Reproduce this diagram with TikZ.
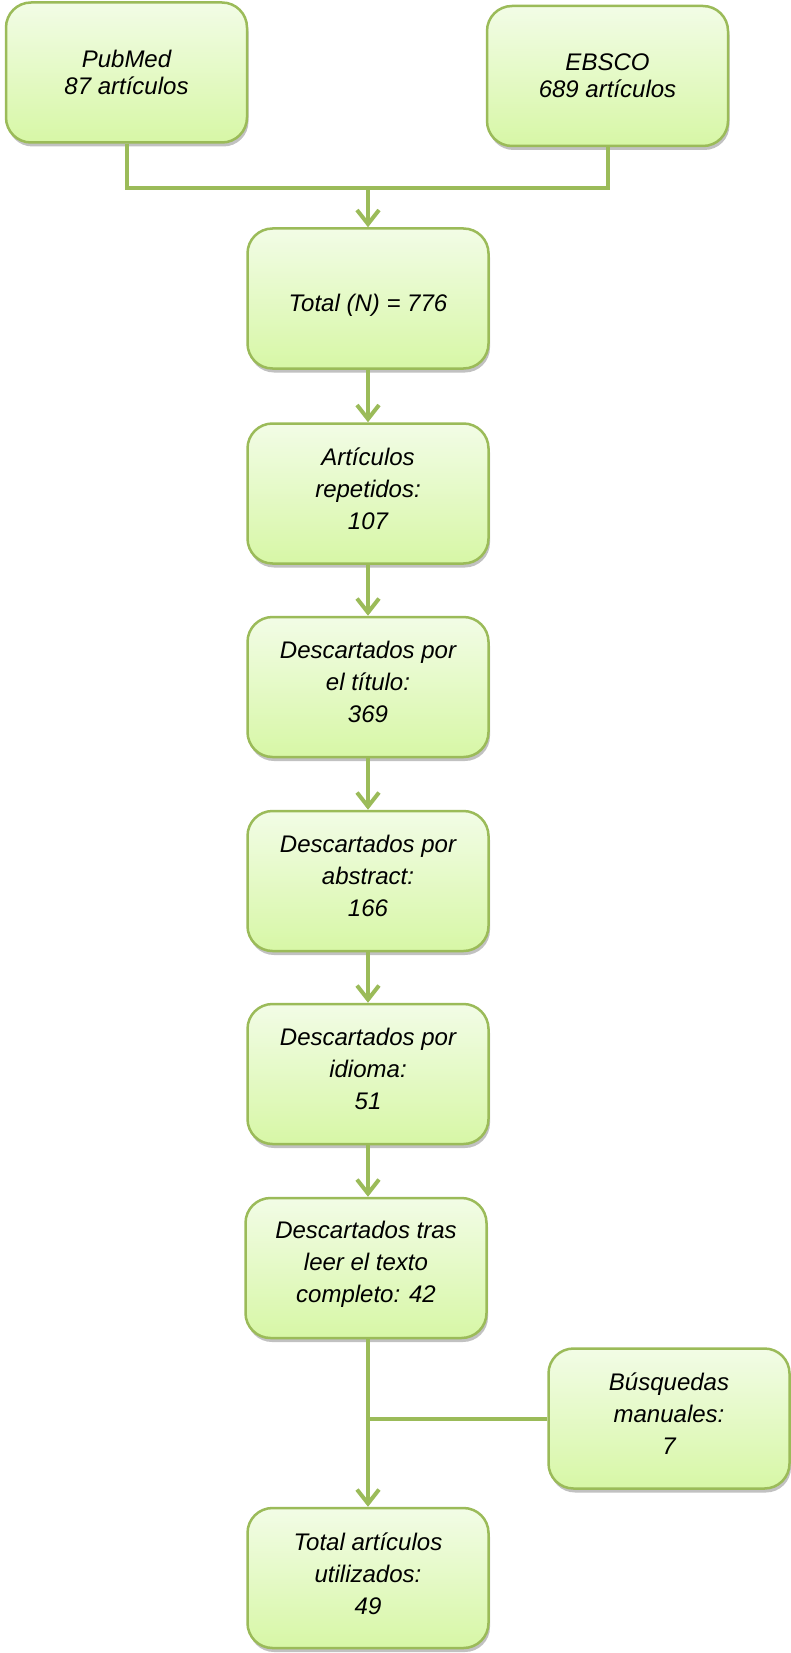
\documentclass[tikz,border=0pt]{standalone}
\usepackage{fontspec}
\setmainfont{Liberation Sans}
\usetikzlibrary{arrows.meta,shadows}
\definecolor{oliveline}{HTML}{9BBB59}
\definecolor{filltop}{HTML}{F2FCE6}
\definecolor{fillbot}{HTML}{D7F7A6}
\tikzset{
  flowbox/.style={draw=oliveline, line width=2.5pt, rounded corners=25pt,
    top color=filltop, bottom color=fillbot,
    minimum width=241pt, minimum height=140pt, inner sep=0pt,
    drop shadow={shadow xshift=1.5pt, shadow yshift=-4pt, opacity=0.35, fill=black!70}},
  boxtext/.style={align=center, font=\itshape\fontsize{24}{32}\selectfont, text=black},
  toptext/.style={align=center, font=\itshape\fontsize{24}{27}\selectfont, text=black},
  link/.style={draw=oliveline, line width=4pt},
  flowarrow/.style={link, -{Straight Barb[length=14pt,width=22pt,line width=4pt]}}
}
\begin{document}
\begin{tikzpicture}[x=1pt,y=-1pt]
\useasboundingbox (0,0) rectangle (791,1653);
% source boxes
\node[flowbox, toptext] (pub) at (126.5,72.5) {PubMed\\87 artículos};
\node[flowbox, toptext] (ebs) at (607.5,76) {EBSCO\\689 artículos};
% main column
\node[flowbox, label={[boxtext, yshift=-7pt]center:Total (N) = 776}] (tot) at (368,298.5) {};
\node[flowbox, label={[boxtext, yshift=5pt]center:Artículos\\repetidos:\\107}] (rep) at (368,493.5) {};
\node[flowbox, label={[boxtext, yshift=5pt]center:Descartados por\\el título:\\369}] (tit) at (368,687) {};
\node[flowbox, label={[boxtext, yshift=5pt]center:Descartados por\\abstract:\\166}] (abs) at (368,881) {};
\node[flowbox, label={[boxtext, yshift=5pt]center:Descartados por\\idioma:\\51}] (idi) at (368,1074) {};
\node[flowbox, label={[boxtext, yshift=4pt]center:Descartados tras\\leer el texto\\completo: 42}] (tra) at (366,1268) {};
\node[flowbox, label={[boxtext, yshift=5pt]center:Búsquedas\\manuales:\\7}] (bus) at (669,1418.5) {};
\node[flowbox, label={[boxtext, yshift=4pt]center:Total artículos\\utilizados:\\49}] (fin) at (368,1578) {};
% connectors
\coordinate (join) at (368,188);
\draw[link] (pub.south) |- (join) -| (ebs.south);
\draw[flowarrow] (join) -- (tot.north);
\draw[flowarrow] (tot.south) -- (rep.north);
\draw[flowarrow] (rep.south) -- (tit.north);
\draw[flowarrow] (tit.south) -- (abs.north);
\draw[flowarrow] (abs.south) -- (idi.north);
\draw[flowarrow] (idi.south) -- (idi.south |- tra.north);
\draw[flowarrow] (tra.south -| fin.north) -- (fin.north);
\draw[link] (bus.west) -- (bus.west -| fin.north);
\end{tikzpicture}
\end{document}
